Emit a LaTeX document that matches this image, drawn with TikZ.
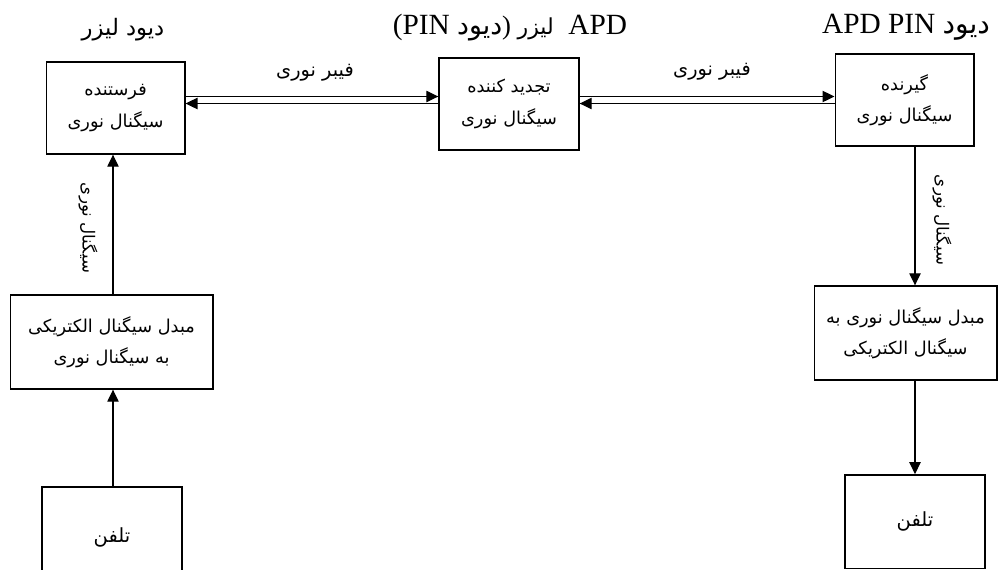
\documentclass[tikz,border=0pt]{standalone}
\usepackage{fontspec}
\setmainfont{Liberation Serif}
\newfontfamily\fa[Script=Arabic]{DejaVu Sans}
\TeXXeTstate=1
\usetikzlibrary{arrows.meta}
\newcommand\fatxt[1]{{\fa\beginR #1\endR}}

\begin{document}
\begin{tikzpicture}
      [ x=0.75pt, y=-0.75pt,
        block/.style={draw, line width=1pt, inner sep=0pt, align=center,
                      font=\fontsize{13.3}{23.5}\selectfont},
        heading/.style={font=\fontsize{22}{24}\selectfont, inner sep=0pt},
        sig/.style={font=\fontsize{14.5}{16}\selectfont, inner sep=0pt},
        link/.style={line width=0.9pt, -{Triangle[length=9pt,width=8.5pt]}}
      ]
      \useasboundingbox (0,0) rectangle (1000,569);

      % top row
      \node[block, minimum width=104pt, minimum height=69pt]  (tx)    at (115.5,108) {\fatxt{فرستنده}\\ \fatxt{سیگنال نوری}};
      \node[block, minimum width=105pt, minimum height=69pt]  (regen) at (509,104)   {\fatxt{تجدید کننده}\\ \fatxt{سیگنال نوری}};
      \node[block, minimum width=104pt, minimum height=69pt]  (rx)    at (904.5,100) {\fatxt{گیرنده}\\ \fatxt{سیگنال نوری}};

      % left column
      \node[block, minimum width=152pt, minimum height=70.5pt] (eo)   at (111.5,342) {\fatxt{مبدل سیگنال الکتریکی}\\ \fatxt{به سیگنال نوری}};
      \node[block, minimum width=105pt, minimum height=75pt, font=\fontsize{14.6}{16}\selectfont]
                                                               (telL) at (112,537)   {\fatxt{تلفن}};

      % right column
      \node[block, minimum width=137pt, minimum height=70.5pt] (oe)   at (905.5,333) {\fatxt{مبدل سیگنال نوری به}\\ \fatxt{سیگنال الکتریکی}};
      \node[block, minimum width=105pt, minimum height=70pt, font=\fontsize{14.6}{16}\selectfont]
                                                               (telR) at (915,521.5) {\fatxt{تلفن}};

      % headings
      \node[heading] (hLaser) at (123,30)  {\fontsize{17}{18}\selectfont\fatxt{دیود لیزر}};
      \node[heading] (hRep)   at (510,28)  {(PIN \fontsize{20}{20}\selectfont\fatxt{دیود})\ \fontsize{16.5}{18}\selectfont\fatxt{لیزر}\fontsize{22}{24}\selectfont\ \ APD};
      \node[heading] (hDet)   at (906,27)  {APD PIN \fontsize{21}{22}\selectfont\fatxt{دیود}};

      % fibre links
      \coordinate (hi) at (0,96.5);
      \coordinate (lo) at (0,103.5);
      \draw[link] (tx.east |- hi)    -- (regen.west |- hi);
      \draw[link] (regen.west |- lo) -- (tx.east |- lo);
      \draw[link] (regen.east |- hi) -- (rx.west |- hi);
      \draw[link] (rx.west |- lo)    -- (regen.east |- lo);
      \node[sig] (fib1) at (315,73) {\fatxt{فیبر نوری}};
      \node[sig] (fib2) at (712,72) {\fatxt{فیبر نوری}};

      % vertical links
      \coordinate (upL) at (113,0);
      \draw[link] (telL.north -| upL) -- (eo.south -| upL);
      \draw[link] (eo.north -| upL) -- (tx.south -| upL);
      \draw[link] (rx.south -| telR.north) -- (oe.north -| telR.north);
      \draw[link] (oe.south -| telR.north) -- (telR.north);
      \node[sig, rotate=-90, font=\fontsize{12.5}{15}\selectfont] (sigL) at (88,228)  {\fatxt{سیگنال نوری}};
      \node[sig, rotate=-90, font=\fontsize{12.5}{15}\selectfont] (sigR) at (942,220) {\fatxt{سیگنال نوری}};
\end{tikzpicture}
\end{document}
